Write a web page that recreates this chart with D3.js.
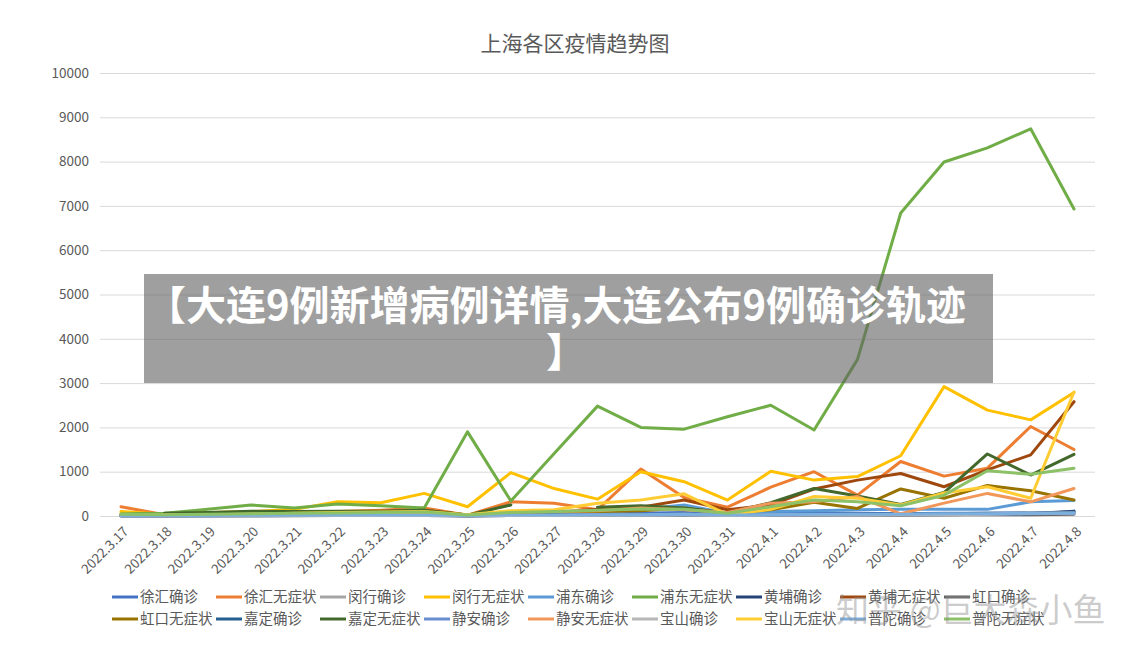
<!doctype html>
<meta charset=utf8>
<link rel="shortcut icon" type=image/x-icon href=data:image/x-icon;,>
<title>上海各区疫情趋势图</title>
<style>
  html {
    font-family: "Noto Sans CJK SC", "Noto Sans", sans-serif;
    background-color: white;
    color: #595959;
  }

  body {
    margin: 0;
  }

  svg {
    display: block;
  }

  .line {
    fill: none;
    stroke-width: 3;
    stroke-linejoin: round;
    stroke-linecap: round;
  }

  .grid line {
    stroke: #d9d9d9;
  }

  text {
    fill: #595959;
  }
</style>
<svg width=1139 height=658 viewbox="0 0 1139 658"></svg>
<script src=https://d3js.org/d3.v7.min.js></script>
<script>
  var dates = ['2022.3.17', '2022.3.18', '2022.3.19', '2022.3.20', '2022.3.21', '2022.3.22',
    '2022.3.23', '2022.3.24', '2022.3.25', '2022.3.26', '2022.3.27', '2022.3.28', '2022.3.29',
    '2022.3.30', '2022.3.31', '2022.4.1', '2022.4.2', '2022.4.3', '2022.4.4', '2022.4.5',
    '2022.4.6', '2022.4.7', '2022.4.8'];

  var yTicks = [0, 1000, 2000, 3000, 4000, 5000, 6000, 7000, 8000, 9000, 10000];

  // legend order = series order (Excel draws later ones on top)
  var names = ['徐汇确诊', '徐汇无症状', '闵行确诊', '闵行无症状', '浦东确诊', '浦东无症状',
    '黄埔确诊', '黄埔无症状', '虹口确诊', '虹口无症状', '嘉定确诊', '嘉定无症状',
    '静安确诊', '静安无症状', '宝山确诊', '宝山无症状', '普陀确诊', '普陀无症状'];

  var colors = ['#4472c4', '#ed7d31', '#a5a5a5', '#ffc000', '#5b9bd5', '#70ad47',
    '#264478', '#9e480e', '#636363', '#997300', '#255e91', '#43682b',
    '#698ed0', '#f1975a', '#b7b7b7', '#ffcd33', '#7cafdd', '#8cc168'];

  // values (null = gap in the line)
  var xuhuiConfirmed = [20, 10, 10, 15, 20, 20, 25, 30, 10, 20, 30, 40, 60, 80, 40, 60, 70, 60, 50, 60, 60, 70, 80];
  var xuhuiAsym = [210, 30, 40, 60, 80, 100, 130, 180, 20, 320, 290, 140, 1060, 420, 200, 650, 1000, 470, 1230, 900, 1080, 2020, 1500];
  var minhangConfirmed = [10, 5, 5, 10, 10, 15, 15, 20, 5, 10, 15, 20, 30, 40, 20, 30, 30, 40, 30, 40, 50, 60, 60];
  var minhangAsym = [100, 40, 80, 100, 150, 320, 300, 510, 210, 980, 620, 380, 1000, 775, 360, 1010, 810, 890, 1360, 2920, 2390, 2170, 2790];
  var pudongConfirmed = [30, 20, 20, 30, 30, 40, 40, 50, 20, 40, 60, 80, 150, 250, 60, 100, 120, 140, 150, 150, 150, 320, 350];
  var pudongAsym = [50, 60, 150, 250, 180, 270, 230, 180, 1900, 340, 1410, 2480, 2000, 1960, 2240, 2500, 1940, 3530, 6840, 7990, 8310, 8740, 6930];
  var huangpuConfirmed = [5, 5, 5, 5, 10, 10, 10, 10, 5, 10, 10, 15, 20, 20, 10, 20, 20, 30, 30, 30, 40, 50, 110];
  var huangpuAsym = [10, 20, 30, 40, 60, 80, 100, 130, 20, 60, 80, 150, 200, 360, 140, 250, 610, 810, 960, 660, 1040, 1380, 2580];
  var hongkouConfirmed = [5, 5, 5, 5, 5, 10, 10, 10, 5, 10, 10, 10, 15, 15, 10, 15, 20, 20, 20, 30, 30, 30, 40];
  var hongkouAsym = [20, 20, 30, 30, 40, 50, 60, 80, 10, 60, 80, 100, 120, 180, 60, 140, 310, 170, 610, 400, 690, 570, 360];
  var jiadingConfirmed = [5, 5, 10, 10, 10, 10, 15, 15, 5, 15, 20, 20, 30, 30, 20, 30, 40, 40, 50, 50, 60, 60, 90];
  var jiadingAsym = [null, 60, 80, 110, 100, 110, 110, 130, 20, 250, null, 200, 230, 180, 70, 300, 620, 450, 260, 530, 1400, 925, 1390];
  var jinganConfirmed = [5, 5, 5, 10, 10, 10, 10, 15, 5, 10, 15, 20, 20, 30, 20, 20, 30, 30, 40, 40, 40, 50, 60];
  var jinganAsym = [30, 20, 30, 40, 50, 60, 70, 80, 20, 90, 100, 120, 180, 140, 80, 290, 320, 440, 50, 290, 510, 320, 620];
  var baoshanConfirmed = [5, 5, 5, 5, 10, 10, 10, 10, 5, 10, 10, 15, 15, 20, 10, 20, 20, 20, 30, 30, 40, 60, 70];
  var baoshanAsym = [40, 20, 30, 40, 60, 80, 90, 100, 30, 120, 140, 290, 360, 500, 30, 150, 440, 400, 250, 520, 660, 400, 2800];
  var putuoConfirmed = [10, 10, 10, 15, 15, 20, 20, 20, 10, 20, 20, 30, 30, 40, 20, 30, 40, 40, 40, 50, 50, 60, 60];
  var putuoAsym = [40, 30, 40, 50, 60, 70, 80, 90, 20, 80, 100, 130, 160, 150, 60, 210, 360, 320, 230, 470, 1020, 940, 1080];

  var seriesValues = [xuhuiConfirmed, xuhuiAsym, minhangConfirmed, minhangAsym, pudongConfirmed, pudongAsym,
    huangpuConfirmed, huangpuAsym, hongkouConfirmed, hongkouAsym, jiadingConfirmed, jiadingAsym,
    jinganConfirmed, jinganAsym, baoshanConfirmed, baoshanAsym, putuoConfirmed, putuoAsym];

  var series = names.map(function(name, i) {
    return {name: name, color: colors[i], values: seriesValues[i]};
  });

  var svg = d3.select('svg');

  var x = d3.scalePoint().domain(dates).range([121, 1074]);
  var y = d3.scaleLinear().domain([0, 10000]).range([516, 73]);

  // title
  svg.append('text')
    .attr('x', 575)
    .attr('y', 51)
    .attr('text-anchor', 'middle')
    .style('font-size', '21px')
    .text('上海各区疫情趋势图');

  // gridlines + y labels
  var grid = svg.append('g').attr('class', 'grid');
  grid.selectAll('line')
    .data(yTicks)
    .enter()
    .append('line')
    .attr('x1', 100)
    .attr('x2', 1095)
    .attr('y1', function(d) { return y(d) + 0.5; })
    .attr('y2', function(d) { return y(d) + 0.5; });

  svg.append('g')
    .selectAll('text')
    .data(yTicks)
    .enter()
    .append('text')
    .attr('x', 89)
    .attr('y', function(d) { return y(d); })
    .attr('dy', '0.35em')
    .attr('text-anchor', 'end')
    .style('font-size', '13.5px')
    .text(function(d) { return d; });

  // x labels, rotated
  svg.append('g')
    .selectAll('text')
    .data(dates)
    .enter()
    .append('text')
    .attr('transform', function(d) { return 'translate(' + (x(d) + 5) + ',529) rotate(-45)'; })
    .attr('dy', '0.35em')
    .attr('text-anchor', 'end')
    .style('font-size', '13.5px')
    .text(function(d) { return d; });

  // lines
  var line = d3.line()
    .defined(function(d) { return d != null; })
    .x(function(d, i) { return x(dates[i]); })
    .y(function(d) { return y(d); });

  svg.append('g')
    .selectAll('path')
    .data(series)
    .enter()
    .append('path')
    .attr('class', 'line')
    .attr('d', function(d) { return line(d.values); })
    .style('stroke', function(d) { return d.color; });

  // legend, 9 columns x 2 rows
  var legend = svg.append('g')
    .selectAll('g')
    .data(series)
    .enter()
    .append('g')
    .attr('transform', function(d, i) {
      return 'translate(' + (112 + (i % 9) * 104) + ',' + (597 + Math.floor(i / 9) * 22) + ')';
    });

  legend.append('line')
    .attr('x1', 0)
    .attr('x2', 26)
    .style('stroke', function(d) { return d.color; })
    .style('stroke-width', 3);

  legend.append('text')
    .attr('x', 28)
    .attr('dy', '0.35em')
    .style('font-size', '14.5px')
    .text(function(d) { return d.name; });

  // watermark
  svg.append('text')
    .attr('x', 836)
    .attr('y', 622)
    .style('font-size', '33px')
    .style('fill', 'rgba(140,140,140,0.45)')
    .text('知乎 @巨大森小鱼');

  // headline banner over the chart
  svg.append('rect')
    .attr('x', 144)
    .attr('y', 274)
    .attr('width', 849)
    .attr('height', 109)
    .style('fill', 'rgba(100,100,100,0.62)');

  var banner = ['【大连9例新增病例详情,大连公布9例确诊轨迹', '】'];
  var bannerX = [556, 566];
  svg.append('g')
    .selectAll('text')
    .data(banner)
    .enter()
    .append('text')
    .attr('x', function(d, i) { return bannerX[i]; })
    .attr('y', function(d, i) { return 320 + i * 47; })
    .attr('text-anchor', 'middle')
    .style('font-size', '40px')
    .style('font-weight', 'bold')
    .style('fill', 'white')
    .text(function(d) { return d; });
</script>
